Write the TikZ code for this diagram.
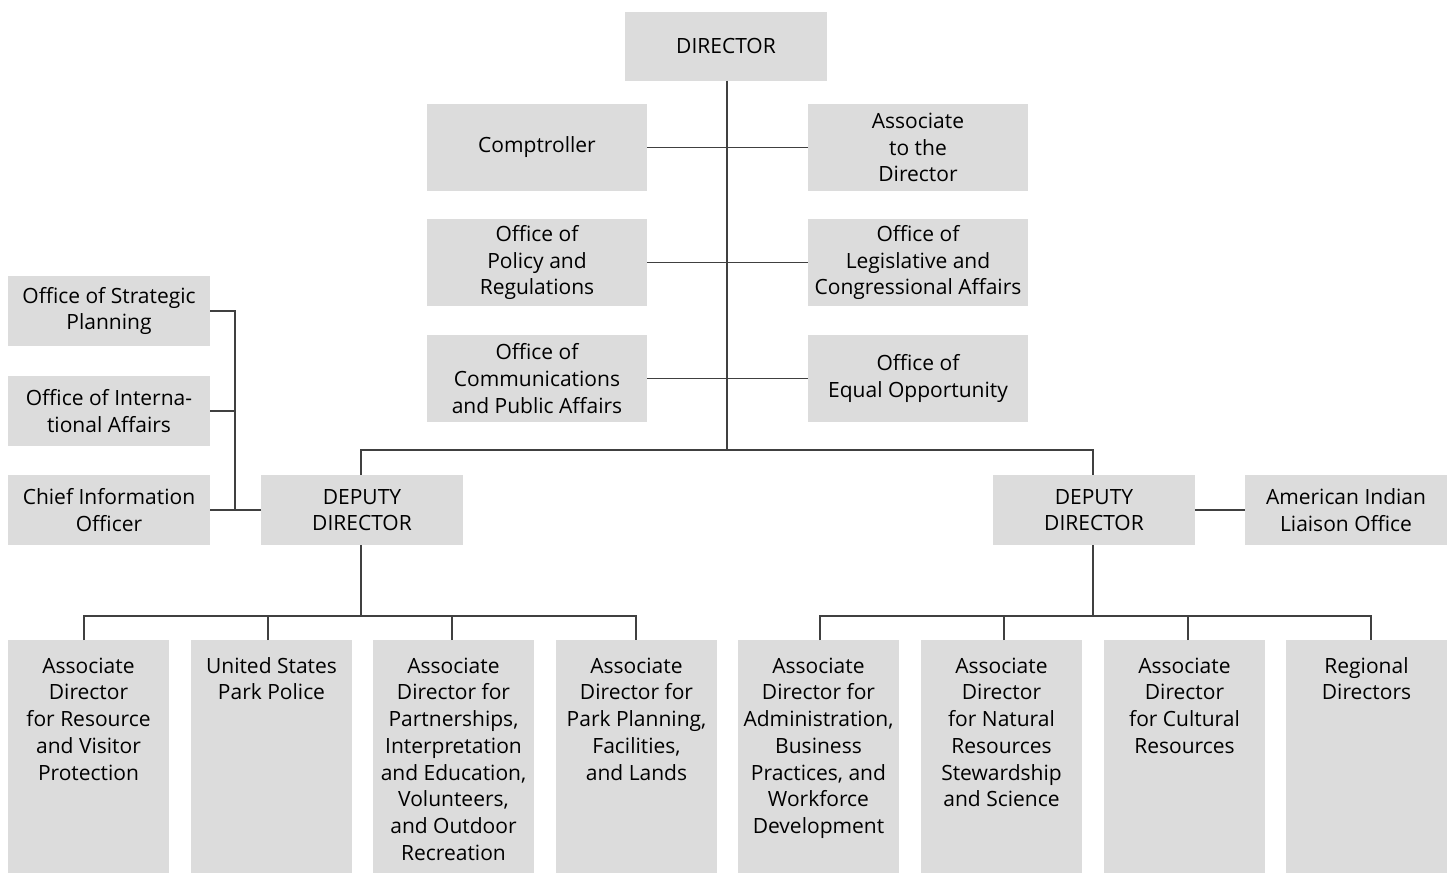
\documentclass[tikz,border=0pt]{standalone}
\usepackage{fontspec}
\setmainfont{Open Sans}
\definecolor{boxfill}{HTML}{DCDCDC}
\definecolor{linecol}{HTML}{404040}
\definecolor{txt}{HTML}{000000}
\begin{document}
\begin{tikzpicture}[x=1pt,y=-1pt,
  every node/.style={font=\fontsize{21}{26.7}\selectfont, text=txt},
  obox/.style={fill=boxfill, draw=none, align=center, inner sep=0pt, minimum width=202, minimum height=70},
  wbox/.style={obox, minimum width=220, minimum height=87},
  tall/.style={fill=boxfill, draw=none, anchor=north, inner xsep=4pt, inner ysep=4pt},
  conn/.style={draw=linecol, line width=1.3pt}]
\useasboundingbox (0,0) rectangle (1450,873);

% top
\node[obox, minimum height=69] (dir) at (726,46) {DIRECTOR};
\node[wbox] (comp) at (537,147.5) {Comptroller};
\node[wbox] (assoc) at (918,147.5) {Associate\\to the\\Director};
\node[wbox] (policy) at (537,262.5) {Office of\\Policy and\\Regulations};
\node[wbox] (legis) at (918,262.5) {Office of\\Legislative and\\Congressional Affairs};
\node[wbox] (comm) at (537,378.5) {Office of\\Communications\\and Public Affairs};
\node[wbox] (equal) at (918,378.5) {Office of\\Equal Opportunity};

% left column
\node[obox] (strat) at (109,311) {Office of Strategic\\Planning};
\node[obox] (intl) at (109,411) {Office of Interna-\\tional Affairs};
\node[obox] (cio) at (109,510) {Chief Information\\Officer};

% deputies
\node[obox] (ddl) at (362,510) {DEPUTY\\DIRECTOR};
\node[obox] (ddr) at (1094,510) {DEPUTY\\DIRECTOR};
\node[obox] (aio) at (1346,510) {American Indian\\Liaison Office};

% bottom boxes
\newcommand{\tallbox}[1]{\parbox[b][225pt][t]{153pt}{\centering\rule{0pt}{29pt}#1}}
\node[tall] (b1) at (88.5,640) {\tallbox{Associate\\Director\\for Resource\\and Visitor\\Protection}};
\node[tall] (b2) at (271.5,640) {\tallbox{United States\\Park Police}};
\node[tall] (b3) at (453.5,640) {\tallbox{Associate\\Director for\\Partnerships,\\Interpretation\\and Education,\\Volunteers,\\and Outdoor\\Recreation}};
\node[tall] (b4) at (636.5,640) {\tallbox{Associate\\Director for\\Park Planning,\\Facilities,\\and Lands}};
\node[tall] (b5) at (818.5,640) {\tallbox{Associate\\Director for\\Administration,\\Business\\Practices, and\\Workforce\\Development}};
\node[tall] (b6) at (1001.5,640) {\tallbox{Associate\\Director\\for Natural\\Resources\\Stewardship\\and Science}};
\node[tall] (b7) at (1184.5,640) {\tallbox{Associate\\Director\\for Cultural\\Resources}};
\node[tall] (b8) at (1366.5,640) {\tallbox{Regional\\Directors}};

% connectors
\coordinate (bus) at (0,450);
\coordinate (busB) at (0,616);
\coordinate (brk) at (235,0);

\draw[conn] ([xshift=1pt]dir.south) -- ([xshift=1pt]dir.south |- bus);
\draw[conn] (comp.east) -- (assoc.west);
\draw[conn] (policy.east) -- (legis.west);
\draw[conn] (comm.east) -- (equal.west);
\draw[conn] ([xshift=-1pt]ddl.north) |- ([xshift=-1pt]ddr.north |- bus) -- ([xshift=-1pt]ddr.north);

\draw[conn] (strat.east) -| (brk |- cio.east) -- (ddl.west);
\draw[conn] (intl.east) -- (brk |- intl.east);
\draw[conn] (cio.east) -- (brk |- cio.east);
\draw[conn] (ddr.east) -- (aio.west);

\draw[conn] ([xshift=-1pt]ddl.south) -- ([xshift=-1pt]ddl.south |- busB);
\draw[conn] ([xshift=-4.5pt]b1.north) |- ([xshift=-0.5pt]b4.north |- busB) -- ([xshift=-0.5pt]b4.north);
\draw[conn] ([xshift=-3.5pt]b2.north) -- ([xshift=-3.5pt]b2.north |- busB);
\draw[conn] ([xshift=-1.5pt]b3.north) -- ([xshift=-1.5pt]b3.north |- busB);

\draw[conn] ([xshift=-1pt]ddr.south) -- ([xshift=-1pt]ddr.south |- busB);
\draw[conn] ([xshift=1.5pt]b5.north) |- ([xshift=4.5pt]b8.north |- busB) -- ([xshift=4.5pt]b8.north);
\draw[conn] ([xshift=2.5pt]b6.north) -- ([xshift=2.5pt]b6.north |- busB);
\draw[conn] ([xshift=3.5pt]b7.north) -- ([xshift=3.5pt]b7.north |- busB);
\end{tikzpicture}
\end{document}
